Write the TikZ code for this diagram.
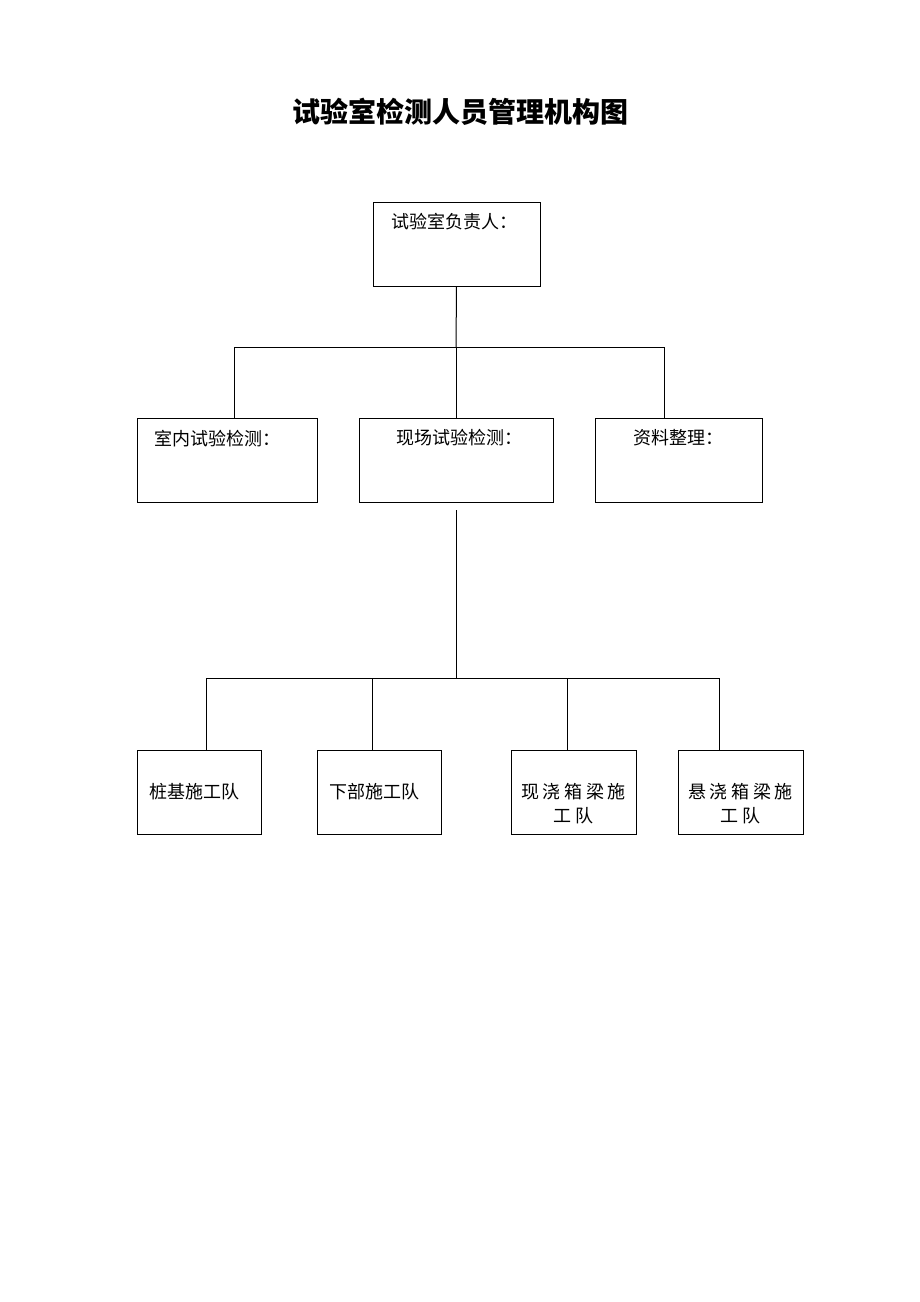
\documentclass[tikz,border=0pt]{standalone}
\usepackage{fontspec}
\newfontfamily\cjk{Noto Sans CJK SC}
\newfontfamily\cjkwide[LetterSpace=20]{Noto Sans CJK SC}
\usetikzlibrary{positioning}
\tikzset{
  box/.style={draw,line width=1pt,minimum width=#1,minimum height=84,inner sep=0pt},
  boxtext/.style={anchor=north,font=\cjk\fontsize{18}{24}\selectfont,align=center,inner sep=0pt},
  link/.style={line width=1pt}
}

\begin{document}
\begin{tikzpicture}[x=1pt,y=-1pt]
\useasboundingbox (0,0) rectangle (920,1302);
\node[font=\cjk\bfseries\fontsize{28}{32}\selectfont] (title) at (460,112) {试验室检测人员管理机构图};

% upper level
\node[box=167,label={[boxtext,yshift=-11,xshift=-2]north:试验室负责人：}] (lead) at (456.5,244) {};
\node[box=180,label={[boxtext,yshift=-12,xshift=-10]north:室内试验检测：}] (indoor) at (227,460) {};
\node[box=194,label={[boxtext,yshift=-12,xshift=3]north:现场试验检测：}] (field) at (456,460) {};
\node[box=167,label={[boxtext,yshift=-12]north:资料整理：}] (docs) at (678.5,460) {};

% teams
\node[box=124,label={[boxtext,yshift=-34,xshift=-5]north:桩基施工队}] (pile) at (199,792) {};
\node[box=124,label={[boxtext,yshift=-34,xshift=-5]north:下部施工队}] (pier) at (379,792) {};
\node[box=125,label={[boxtext,yshift=-34,font=\cjkwide\fontsize{18}{24}\selectfont]north:现浇箱梁施\\工队}] (cast) at (573.5,792) {};
\node[box=125,label={[boxtext,yshift=-34,font=\cjkwide\fontsize{18}{24}\selectfont]north:悬浇箱梁施\\工队}] (cant) at (740.5,792) {};

\coordinate (busA) at (456,347);
\coordinate (busB) at (456,678);
\coordinate (fieldfoot) at (456,510);

\draw[link] (lead.south) -- (busA);
\draw[link] (busA -| 234,0) -- (busA -| 664,0);
\foreach \x/\n in {234/indoor,456/field,664/docs}
  \draw[link] (busA -| \x,0) -- (\n.north -| \x,0);

\draw[link] (fieldfoot) -- (busB);
\draw[link] (busB -| 206,0) -- (busB -| 719,0);
\foreach \x/\n in {206/pile,372/pier,567/cast,719/cant}
  \draw[link] (busB -| \x,0) -- (\n.north -| \x,0);
\end{tikzpicture}
\end{document}
